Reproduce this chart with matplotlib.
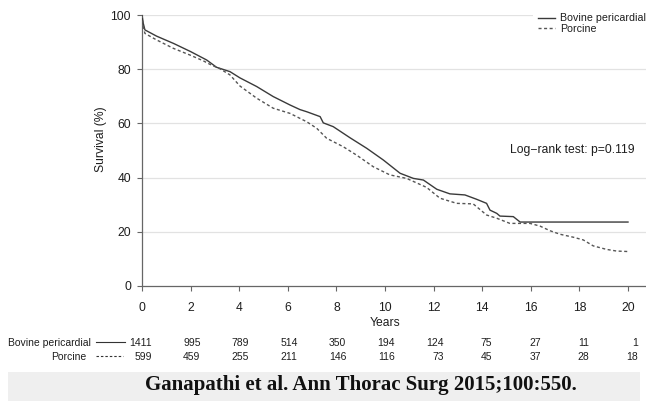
import matplotlib
matplotlib.use("Agg")
import matplotlib.pyplot as plt
from matplotlib.lines import Line2D
from matplotlib.patches import Rectangle
from matplotlib.transforms import blended_transform_factory

# ---- data ----
bov_t = [0, 0.05, 0.12, 0.6, 1.3, 2.0, 2.66, 3.07, 3.62, 4.03, 4.72, 5.4, 6.09, 6.5, 6.78,
         7.33, 7.46, 7.87, 8.56, 9.25, 9.93, 10.62, 11.17, 11.58, 12.13, 12.67, 13.29,
         13.77, 14.18, 14.32, 14.6, 14.73, 15.28, 15.56, 20]
bov_s = [100, 97, 94.5, 92.2, 89.5, 86.5, 83.4, 80.7, 79.1, 76.8, 73.6, 69.9, 66.8, 65.1, 64.3,
         62.5, 60.2, 58.8, 54.7, 50.8, 46.5, 41.6, 39.7, 39.1, 35.7, 34.0, 33.6,
         32.0, 30.5, 28.0, 26.8, 25.8, 25.6, 23.6, 23.6]
por_t = [0, 0.05, 0.12, 0.6, 1.29, 1.98, 2.52, 2.86, 3.2, 3.62, 4.03, 4.72, 5.4, 6.09, 6.78,
         7.19, 7.6, 8.28, 8.83, 9.52, 10.2, 10.89, 11.71, 12.26, 12.95, 13.63, 14.18, 14.6,
         15.14, 15.97, 16.38, 16.79, 17.2, 17.75, 18.16, 18.57, 19.12, 19.53, 20.05]
por_s = [100, 96, 93.2, 90.8, 87.7, 85.2, 83.1, 81.5, 80.2, 77.9, 73.8, 69.3, 65.6, 63.7, 60.6,
         58.2, 54.5, 51.4, 48.3, 44.0, 41.0, 39.7, 36.4, 32.4, 30.5, 30.3, 26.2, 25.0,
         23.1, 23.1, 22.1, 20.4, 19.1, 18.0, 17.0, 14.8, 13.5, 12.9, 12.7]

risk_years = [0, 2, 4, 6, 8, 10, 12, 14, 16, 18, 20]
risk_bov = [1411, 995, 789, 514, 350, 194, 124, 75, 27, 11, 1]
risk_por = [599, 459, 255, 211, 146, 116, 73, 45, 37, 28, 18]
series_names = ["Bovine pericardial", "Porcine"]
yticks = [0, 20, 40, 60, 80, 100]
pvalue_text = "Log\u2212rank test: p=0.119"
citation = "Ganapathi et al. Ann Thorac Surg 2015;100:550."

plt.rcParams['font.family'] = ['Liberation Sans', 'DejaVu Sans']

W, H = 646, 401
fig = plt.figure(figsize=(W / 100, H / 100), dpi=100)
fig.patch.set_facecolor('white')

ax_l, ax_b = 142 / W, 1 - 286 / H
ax = fig.add_axes([ax_l, ax_b, 1 - ax_l, (286 - 15) / H])
ax.set_xlim(0, (W - 142) / 24.3)
ax.set_ylim(0, 100)

axis_col = '#666666'
grid_col = '#e2e2e2'
txt_col = '#1e1e1e'
for y in yticks[1:]:
    ax.axhline(y, color=grid_col, lw=0.9, zorder=0)

ax.plot(bov_t, bov_s, color='#3a3a3a', lw=1.0, label=series_names[0], zorder=3)
ax.plot(por_t, por_s, color='#555555', lw=1.0, ls=(0, (2.2, 1.8)), label=series_names[1], zorder=3)

for s in ['top', 'right']:
    ax.spines[s].set_visible(False)
for s in ['left', 'bottom']:
    ax.spines[s].set_color(axis_col)
    ax.spines[s].set_linewidth(0.9)

ax.set_xticks(risk_years)
ax.set_yticks(yticks)
ax.tick_params(axis='x', length=3.5, width=0.8, color=axis_col, pad=8, labelsize=8.7, labelcolor=txt_col)
ax.tick_params(axis='y', length=3.5, width=0.8, color=axis_col, pad=4.5, labelsize=8.7, labelcolor=txt_col)

ax.set_ylabel("Survival (%)", fontsize=8.7, color=txt_col)
ax.yaxis.set_label_coords(-0.07, 0.54)
fig.text(385 / W, 1 - 323 / H, "Years", ha='center', va='center', fontsize=8.7, color=txt_col)

ax.text(15.14, 50.2, pvalue_text, ha='left', va='center', fontsize=8.7, color=txt_col)

leg = ax.legend(loc='upper left', bbox_to_anchor=(533 / W, 1 - 8 / H), bbox_transform=fig.transFigure,
                fontsize=7.7, handlelength=1.55, handletextpad=0.45, labelspacing=0.05,
                borderpad=0.5, borderaxespad=0, frameon=True, fancybox=False)
leg.get_frame().set_facecolor('white')
leg.get_frame().set_edgecolor('none')
leg.get_frame().set_alpha(1)
for t in leg.get_texts():
    t.set_color(txt_col)

# risk table
tr = blended_transform_factory(ax.transData, fig.transFigure)
off = 10 / 24.3
for x, b, p in zip(risk_years, risk_bov, risk_por):
    ax.text(x + off, 1 - 343 / H, str(b), transform=tr, ha='right', va='center', fontsize=7.5,
            color=txt_col, clip_on=False)
    ax.text(x + off, 1 - 357 / H, str(p), transform=tr, ha='right', va='center', fontsize=7.5,
            color=txt_col, clip_on=False)
fig.text(91 / W, 1 - 343 / H, series_names[0], ha='right', va='center', fontsize=7.5, color=txt_col)
fig.text(86 / W, 1 - 357 / H, series_names[1], ha='right', va='center', fontsize=7.5, color=txt_col)
fig.add_artist(Line2D([96 / W, 125 / W], [1 - 342 / H, 1 - 342 / H], transform=fig.transFigure,
                      color='#333333', lw=0.8))
fig.add_artist(Line2D([96 / W, 123 / W], [1 - 356 / H, 1 - 356 / H], transform=fig.transFigure,
                      color='#333333', lw=0.8, ls=(0, (2.2, 1.8))))

# citation banner
fig.add_artist(Rectangle((8 / W, 0), (640 - 8) / W, (401 - 372) / H, transform=fig.transFigure,
                         facecolor='#efefef', edgecolor='none', zorder=0))
fig.text(361 / W, 1 - 385 / H, citation, ha='center', va='center', fontsize=15, fontweight='bold',
         family=['Liberation Serif', 'DejaVu Serif'], color='#111111')

fig.savefig('out.png', dpi=100)
